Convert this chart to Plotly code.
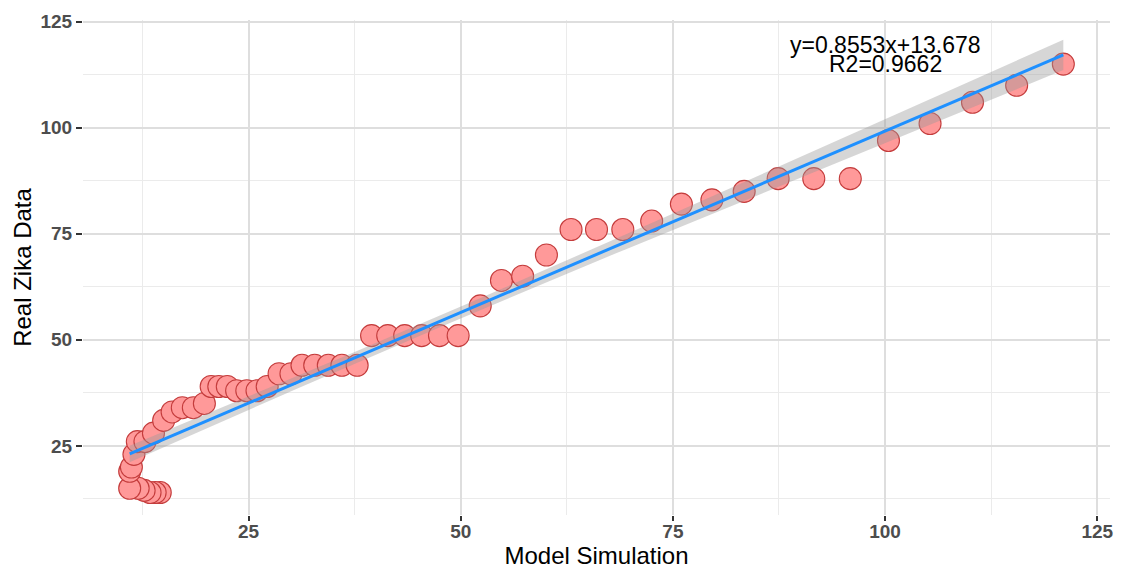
import numpy as np
import plotly.graph_objects as go

# ---- data ----
model_sim = [14.6, 14.0, 13.4, 12.7, 12.0, 11.0, 11.0, 11.2, 11.5, 11.9,
             12.8, 13.8, 15.0, 16.0, 17.2, 18.5, 19.8, 20.6, 21.5, 22.5,
             23.6, 24.8, 26.0, 27.2, 28.6, 30.0, 31.3, 32.8, 34.4, 36.0,
             37.8, 39.5, 41.4, 43.4, 45.4, 47.5, 49.7, 52.3, 54.8, 57.3,
             60.1, 63.0, 66.0, 69.1, 72.5, 76.0, 79.6, 83.4, 87.4, 91.6,
             95.9, 100.4, 105.3, 110.3, 115.5, 121.0]
real_zika = [14, 14, 14, 14.5, 15, 15, 19, 20, 23, 26,
             26, 28, 31, 33, 34, 34, 35, 39, 39, 39,
             38, 38, 38, 39, 42, 42, 44, 44, 44, 44,
             44, 51, 51, 51, 51, 51, 51, 58, 64, 65,
             70, 76, 76, 76, 78, 82, 83, 85, 88, 88,
             88, 97, 101, 106, 110, 115]

slope = 0.8553
intercept = 13.678
r2 = 0.9662

x_ticks = [25, 50, 75, 100, 125]
y_ticks = [25, 50, 75, 100, 125]
minor_ticks = [12.5, 37.5, 62.5, 87.5, 112.5]

# ---- regression line & 95% confidence band ----
x = np.array(model_sim)
y = np.array(real_zika)
n = len(x)
xs = np.linspace(x.min(), x.max(), 80)
yhat = intercept + slope * xs
resid = y - (intercept + slope * x)
s = np.sqrt(np.sum(resid ** 2) / (n - 2))
sxx = np.sum((x - x.mean()) ** 2)
tval = 2.005
se = s * np.sqrt(1.0 / n + (xs - x.mean()) ** 2 / sxx)
upper = yhat + tval * se
lower = yhat - tval * se

fig = go.Figure()

fig.add_trace(go.Scatter(
    x=model_sim, y=real_zika, mode="markers",
    marker=dict(size=22, color="#FF9999",
                line=dict(color="#C43C3C", width=1.1)),
    showlegend=False, hoverinfo="x+y"))

fig.add_trace(go.Scatter(
    x=np.concatenate([xs, xs[::-1]]),
    y=np.concatenate([upper, lower[::-1]]),
    mode="lines", fill="toself",
    fillcolor="rgba(153,153,153,0.4)",
    line=dict(width=0), showlegend=False, hoverinfo="skip"))

fig.add_trace(go.Scatter(
    x=xs, y=yhat, mode="lines",
    line=dict(color="#1E90FF", width=3),
    showlegend=False))

label_font = dict(family="Arial, Liberation Sans, sans-serif", size=23, color="black")
fig.add_annotation(x=100, y=119.5, xref="x", yref="y",
                   text=f"y={slope}x+{intercept}", showarrow=False,
                   font=label_font, xanchor="center", yanchor="middle")
fig.add_annotation(x=100, y=115.0, xref="x", yref="y",
                   text=f"R2={r2}", showarrow=False,
                   font=label_font, xanchor="center", yanchor="middle")

tick_font = dict(family="Arial, Liberation Sans, sans-serif",
                 size=19, color="#4D4D4D", weight="bold")
title_font = dict(family="Arial, Liberation Sans, sans-serif", size=24, color="black")

fig.update_xaxes(
    range=[5.5, 126.5], tickmode="array", tickvals=x_ticks,
    ticktext=[str(v) for v in x_ticks],
    showgrid=True, gridcolor="#DEDEDE", gridwidth=2,
    minor=dict(tickmode="array", tickvals=minor_ticks,
               showgrid=True, gridcolor="#EBEBEB", gridwidth=1, ticks=""),
    zeroline=False, showline=False,
    ticks="outside", ticklen=5, tickwidth=2, tickcolor="#333333",
    tickfont=tick_font, ticklabelstandoff=-6,
    title=dict(text="Model Simulation", font=title_font, standoff=2),
    automargin=False)

fig.update_yaxes(
    range=[8.7, 125.4], tickmode="array", tickvals=y_ticks,
    ticktext=[str(v) for v in y_ticks],
    showgrid=True, gridcolor="#DEDEDE", gridwidth=2,
    minor=dict(tickmode="array", tickvals=minor_ticks,
               showgrid=True, gridcolor="#EBEBEB", gridwidth=1, ticks=""),
    zeroline=False, showline=False,
    ticks="outside", ticklen=6, tickwidth=2, tickcolor="#333333",
    tickfont=tick_font,
    title=dict(text="Real Zika Data", font=title_font, standoff=2),
    automargin=False)

# the page adds an 8px body margin, so the figure is sized to fit the window
fig.update_layout(
    width=1114, height=562,
    margin=dict(l=75, r=12, t=12, b=55),
    plot_bgcolor="white", paper_bgcolor="white",
    showlegend=False)

fig.write_html("out.html")
